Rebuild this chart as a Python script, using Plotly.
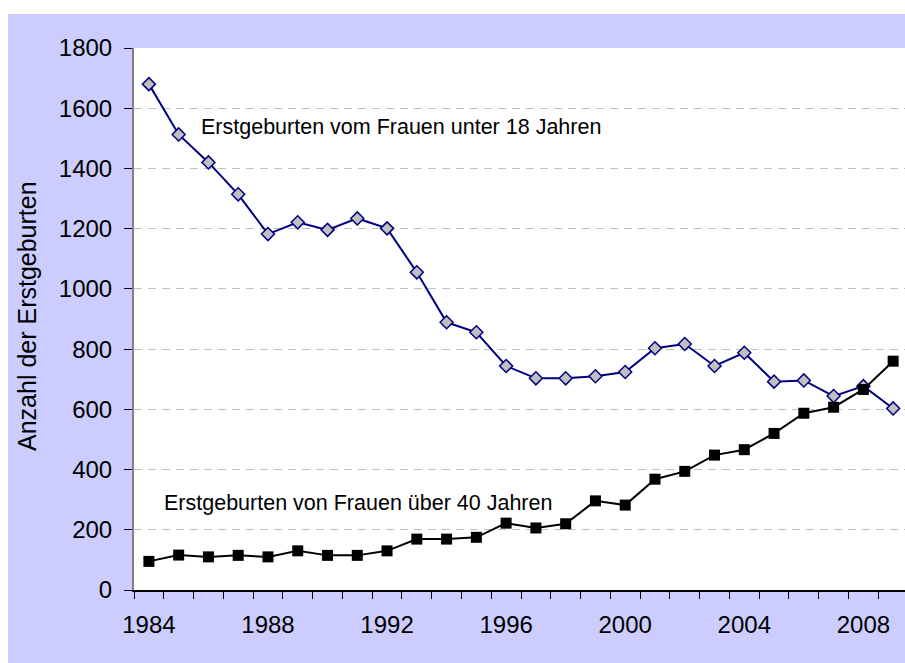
import plotly.graph_objects as go

years = list(range(1984, 2010))
under18 = [1680, 1513, 1420, 1314, 1182, 1221, 1196, 1234, 1201, 1055, 889, 856,
           744, 703, 703, 710, 724, 803, 817, 744, 788, 692, 696, 644, 677, 603]
over40 = [95, 116, 110, 115, 110, 130, 115, 115, 130, 169, 169, 175,
          222, 206, 220, 296, 282, 368, 394, 448, 466, 520, 587, 607, 666, 760]
xtick_labels = [1984, 1988, 1992, 1996, 2000, 2004, 2008]
ytick_vals = list(range(0, 2000, 200))
label_under18 = "Erstgeburten vom Frauen unter 18 Jahren"
label_over40 = "Erstgeburten von Frauen über 40 Jahren"
ytitle = "Anzahl der Erstgeburten"

FONT = "Liberation Sans, Arial, sans-serif"
LAV = "#CCCCFF"

fig = go.Figure()
fig.add_trace(go.Scatter(
    x=years, y=under18, mode="lines+markers",
    line=dict(color="#000080", width=2),
    marker=dict(symbol="diamond", size=10, color="#C0C0C0",
                line=dict(color="#000080", width=1.5)),
    showlegend=False, cliponaxis=False))
fig.add_trace(go.Scatter(
    x=years, y=over40, mode="lines+markers",
    line=dict(color="#000000", width=2),
    marker=dict(symbol="square", size=11, color="#000000",
                line=dict(color="#000000", width=0)),
    showlegend=False, cliponaxis=False))

W, H = 905, 663
L, T, B, R = 134, 48, 73, 0
plot_w = W - L - R
plot_h = H - T - B
PX_PER_YEAR = 29.77

def px_to_paper_x(px):
    return (px - L) / plot_w

def px_to_paper_y(py):
    return (H - B - py) / plot_h

fig.update_layout(
    width=W, height=H, autosize=False,
    margin=dict(l=L, r=R, t=T, b=B, pad=0),
    paper_bgcolor=LAV, plot_bgcolor="#FFFFFF",
    font=dict(family=FONT, color="#000000", size=24),
    xaxis=dict(
        range=[1983.5, 1983.5 + plot_w / PX_PER_YEAR],
        tickmode="array", tickvals=xtick_labels,
        ticktext=[str(v) for v in xtick_labels],
        ticks="", showgrid=False, zeroline=False,
        showline=True, linecolor="#000000", linewidth=1.5,
        tickfont=dict(size=24, family=FONT, color="#000000"),
        ticklabelstandoff=12,
        minor=dict(tickmode="array", tickvals=[y - 0.5 for y in years] + [years[-1] + 0.5],
                   ticks="outside", ticklen=7, tickcolor="#000000", tickwidth=1,
                   showgrid=False),
    ),
    yaxis=dict(
        range=[0, 1800], tickmode="array", tickvals=ytick_vals,
        ticks="outside", ticklen=8, tickcolor="#000000", tickwidth=1,
        showgrid=True, gridcolor="#C0C0C0", gridwidth=1.2, griddash="8px,6px",
        zeroline=False, showline=True, linecolor="#808080", linewidth=2,
        tickfont=dict(size=24, family=FONT, color="#000000"),
        ticklabelstandoff=7,
    ),
    shapes=[
        dict(type="rect", xref="paper", yref="paper", layer="above",
             x0=px_to_paper_x(-5), x1=px_to_paper_x(W + 5),
             y0=px_to_paper_y(14), y1=px_to_paper_y(-5),
             fillcolor="#FFFFFF", line=dict(width=0)),
        dict(type="rect", xref="paper", yref="paper", layer="above",
             x0=px_to_paper_x(-5), x1=px_to_paper_x(8),
             y0=px_to_paper_y(H + 5), y1=px_to_paper_y(-5),
             fillcolor="#FFFFFF", line=dict(width=0)),
    ],
    annotations=[
        dict(text=label_under18, x=1985.68, y=1538, xref="x", yref="y",
             xanchor="left", yanchor="middle", showarrow=False,
             font=dict(size=21.5, family=FONT, color="#000000")),
        dict(text=label_over40, x=1984.44, y=289, xref="x", yref="y",
             xanchor="left", yanchor="middle", showarrow=False,
             font=dict(size=21.5, family=FONT, color="#000000")),
        dict(text=ytitle, x=px_to_paper_x(27), y=px_to_paper_y(316),
             xref="paper", yref="paper", textangle=-90,
             xanchor="center", yanchor="middle", showarrow=False,
             font=dict(size=25, family=FONT, color="#000000")),
    ],
)

fig.write_html(
    "out.html",
    config={"displayModeBar": False},
    post_script="document.body.style.margin='0';document.body.style.overflow='hidden';",
)
